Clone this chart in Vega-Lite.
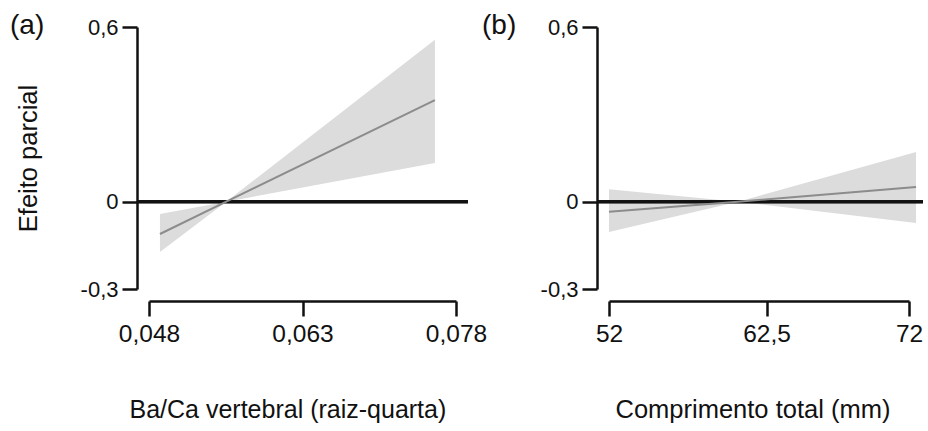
{
  "$schema": "https://vega.github.io/schema/vega-lite/v6.json",
  "padding": {"left": 10, "top": 11, "right": 5, "bottom": 5},
  "bounds": "flush",
  "spacing": 153,
  "config": {
    "view": {"stroke": null},
    "axis": {
      "grid": false,
      "domainColor": "#111111",
      "tickColor": "#111111",
      "domainWidth": 2.5,
      "tickWidth": 2.5,
      "tickSize": 15,
      "labelFont": "Liberation Sans",
      "labelColor": "#111111",
      "labelFlush": false,
      "titleFont": "Liberation Sans",
      "titleFontWeight": "normal",
      "titleColor": "#111111",
      "titleFontSize": 25.5
    },
    "title": {"font": "Liberation Sans", "fontWeight": "normal", "fontSize": 28, "color": "#111111", "anchor": "start", "frame": "group", "offset": 0}
  },
  "hconcat": [
    {
      "width": 307,
      "height": 262,
      "title": {"text": "(a)", "dx": -139, "dy": 27.5},
      "data": {"values": [
        {"x": 0.04907, "lo": -0.173, "hi": -0.042, "fit": -0.111},
        {"x": 0.05555, "lo": 0, "hi": 0, "fit": 0},
        {"x": 0.07594, "lo": 0.133, "hi": 0.556, "fit": 0.349}
      ]},
      "layer": [
        {
          "mark": {"type": "area", "color": "#dcdcdc", "opacity": 1},
          "encoding": {
            "x": {"field": "x", "type": "quantitative", "title": "Ba/Ca vertebral (raiz-quarta)",
              "scale": {"domain": [0.048, 0.078]},
              "axis": {"values": [0.048, 0.063, 0.078], "labelExpr": "replace(toString(datum.value), '.', ',')", "offset": 12, "labelFontSize": 24.5, "labelPadding": 6, "titleFontSize": 25, "titleX": -20, "titleY": 116, "titleAlign": "left", "titleBaseline": "alphabetic"}},
            "y": {"field": "lo", "type": "quantitative", "title": "Efeito parcial",
              "scale": {"domain": [-0.3, 0.6]},
              "axis": {"values": [-0.3, 0, 0.6], "labelExpr": "replace(toString(datum.value), '.', ',')", "offset": 12, "labelFontSize": 22, "labelPadding": 4, "titleX": -101, "titleBaseline": "alphabetic"}},
            "y2": {"field": "hi"}
          }
        },
        {
          "mark": {"type": "rule", "color": "#111111", "strokeWidth": 3},
          "encoding": {
            "x": {"datum": 0.046827},
            "x2": {"datum": 0.079173},
            "y": {"datum": 0}
          }
        },
        {
          "mark": {"type": "line", "color": "#8c8c8c", "strokeWidth": 2},
          "encoding": {
            "x": {"field": "x", "type": "quantitative", "title": "Ba/Ca vertebral (raiz-quarta)"},
            "y": {"field": "fit", "type": "quantitative", "title": "Efeito parcial"}
          }
        }
      ]
    },
    {
      "width": 300,
      "height": 262,
      "title": {"text": "(b)", "dx": -127, "dy": 27.5},
      "data": {"values": [
        {"x": 52, "lo": -0.104, "hi": 0.043, "fit": -0.035},
        {"x": 60.6, "lo": 0, "hi": 0, "fit": 0},
        {"x": 72.47, "lo": -0.073, "hi": 0.171, "fit": 0.05}
      ]},
      "layer": [
        {
          "mark": {"type": "area", "color": "#dcdcdc", "opacity": 1},
          "encoding": {
            "x": {"field": "x", "type": "quantitative", "title": "Comprimento total (mm)",
              "scale": {"domain": [52, 72]},
              "axis": {"values": [52, 62.5, 72], "labelExpr": "replace(toString(datum.value), '.', ',')", "offset": 12, "labelFontSize": 24.5, "labelPadding": 6, "titleX": 6, "titleY": 116, "titleAlign": "left", "titleBaseline": "alphabetic"}},
            "y": {"field": "lo", "type": "quantitative", "title": null,
              "scale": {"domain": [-0.3, 0.6]},
              "axis": {"values": [-0.3, 0, 0.6], "labelExpr": "replace(toString(datum.value), '.', ',')", "offset": 12, "labelFontSize": 22, "labelPadding": 4}},
            "y2": {"field": "hi"}
          }
        },
        {
          "mark": {"type": "rule", "color": "#111111", "strokeWidth": 3},
          "encoding": {
            "x": {"datum": 51.2},
            "x2": {"datum": 72.93},
            "y": {"datum": 0}
          }
        },
        {
          "mark": {"type": "line", "color": "#8c8c8c", "strokeWidth": 2},
          "encoding": {
            "x": {"field": "x", "type": "quantitative", "title": "Comprimento total (mm)"},
            "y": {"field": "fit", "type": "quantitative", "title": null}
          }
        }
      ]
    }
  ]
}
